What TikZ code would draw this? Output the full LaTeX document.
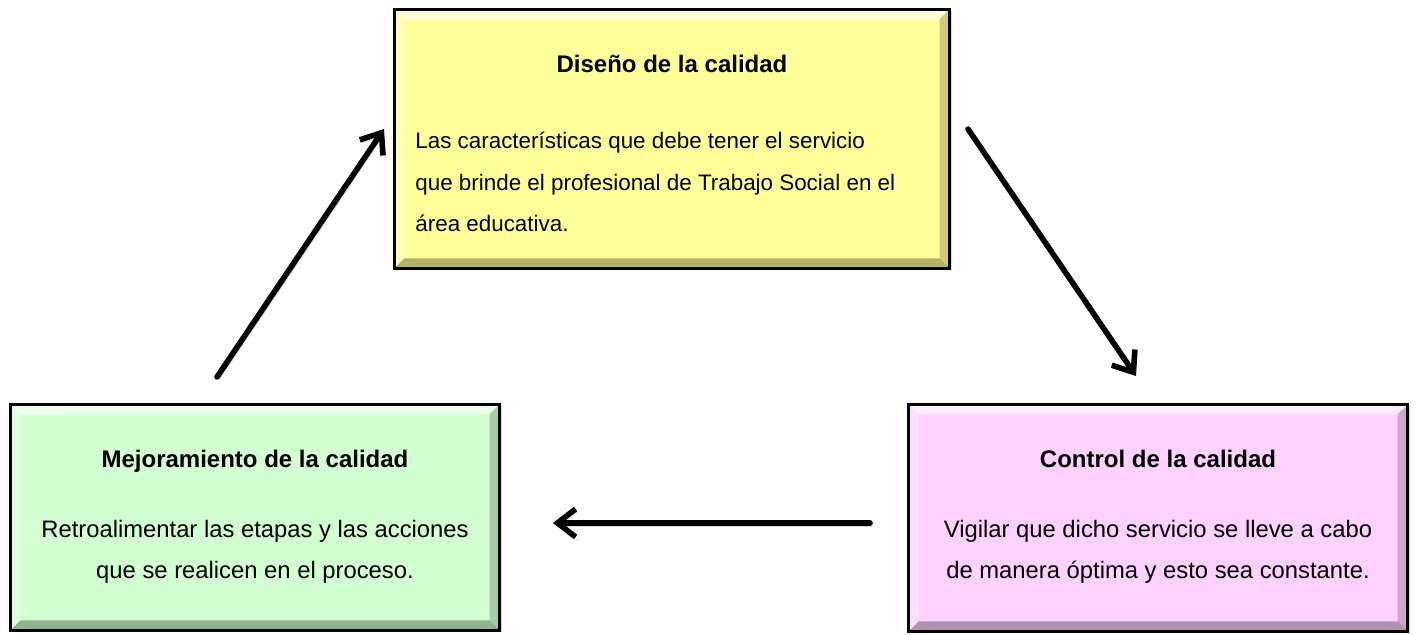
\documentclass[tikz,border=0pt]{standalone}
\usepackage{fontspec}
\setmainfont{Liberation Sans}
\usetikzlibrary{arrows.meta,shadows}
\definecolor{amarillo}{HTML}{FFFF9C}
\definecolor{verde}{HTML}{D2FED2}
\definecolor{rosa}{HTML}{FED2FE}
\tikzset{
  caja/.style={draw=black, line width=1.5pt, fill=#1, rectangle, inner sep=0pt,
    drop shadow={opacity=0.3, shadow xshift=1pt, shadow yshift=-1pt},
    path picture={
      \coordinate (so) at (path picture bounding box.south west);
      \coordinate (ne) at (path picture bounding box.north east);
      % biseles
      \fill[white, opacity=0.6] (so |- ne) -- (ne) -- ([shift={(-5pt,-5pt)}]ne)
        -- ([shift={(5pt,-5pt)}]so |- ne) -- cycle;
      \fill[white, opacity=0.3] (so |- ne) -- ([shift={(5pt,-5pt)}]so |- ne)
        -- ([shift={(5pt,5pt)}]so) -- (so) -- cycle;
      \fill[black, opacity=0.2] (ne) -- (ne |- so) -- ([shift={(-5pt,5pt)}]ne |- so)
        -- ([shift={(-5pt,-5pt)}]ne) -- cycle;
      \fill[black, opacity=0.3] (so) -- (ne |- so) -- ([shift={(-5pt,5pt)}]ne |- so)
        -- ([shift={(5pt,5pt)}]so) -- cycle;
    }},
  titulo/.style={font=\fontsize{12}{14}\selectfont\bfseries, anchor=base, inner sep=0pt},
  cuerpo/.style={font=\fontsize{11.9}{20.75}\selectfont, anchor=base, align=center, inner sep=0pt},
  flecha/.style={line width=2.8pt, line cap=round, -{Straight Barb[length=9pt,width=14pt]},
    preaction={draw=black, opacity=0.15, transform canvas={shift={(1pt,-1.5pt)}}}},
}
\begin{document}
\begin{tikzpicture}[x=0.5pt,y=-0.5pt]
  \useasboundingbox (0,0) rectangle (1421,635);
  % cajas
  \node[caja=amarillo, minimum width=277.5pt, minimum height=129.5pt] (diseno) at (672,139) {};
  \node[caja=verde, minimum width=244.5pt, minimum height=113pt] (mejora) at (255,517.5) {};
  \node[caja=rosa, minimum width=249.5pt, minimum height=113.5pt] (control) at (1158,518) {};
  % textos
  \node[titulo] (disenoT) at (672,73) {Diseño de la calidad};
  \node[cuerpo, font=\fontsize{11.2}{20.75}\selectfont, align=left, anchor=base west] (disenoC) at (415,232)
    {Las características que debe tener el servicio\\
     que brinde el profesional de Trabajo Social en el\\
     área educativa.};
  \node[titulo] (mejoraT) at (255,468) {Mejoramiento de la calidad};
  \node[cuerpo] (mejoraC) at (255,579)
    {Retroalimentar las etapas y las acciones\\ que se realicen en el proceso.};
  \node[titulo] (controlT) at (1158,468) {Control de la calidad};
  \node[cuerpo] (controlC) at (1158,579)
    {Vigilar que dicho servicio se lleve a cabo\\ de manera óptima y esto sea constante.};
  % flechas
  \coordinate (a1) at (217,377);
  \coordinate (a2) at (384,129);
  \coordinate (b1) at (968,129);
  \coordinate (b2) at (1136,376);
  \coordinate (c1) at (870,523);
  \coordinate (c2) at (553,523);
  \draw[flecha] (a1) -- (a2);
  \draw[flecha] (b1) -- (b2);
  \draw[flecha] (c1) -- (c2);
\end{tikzpicture}
\end{document}
